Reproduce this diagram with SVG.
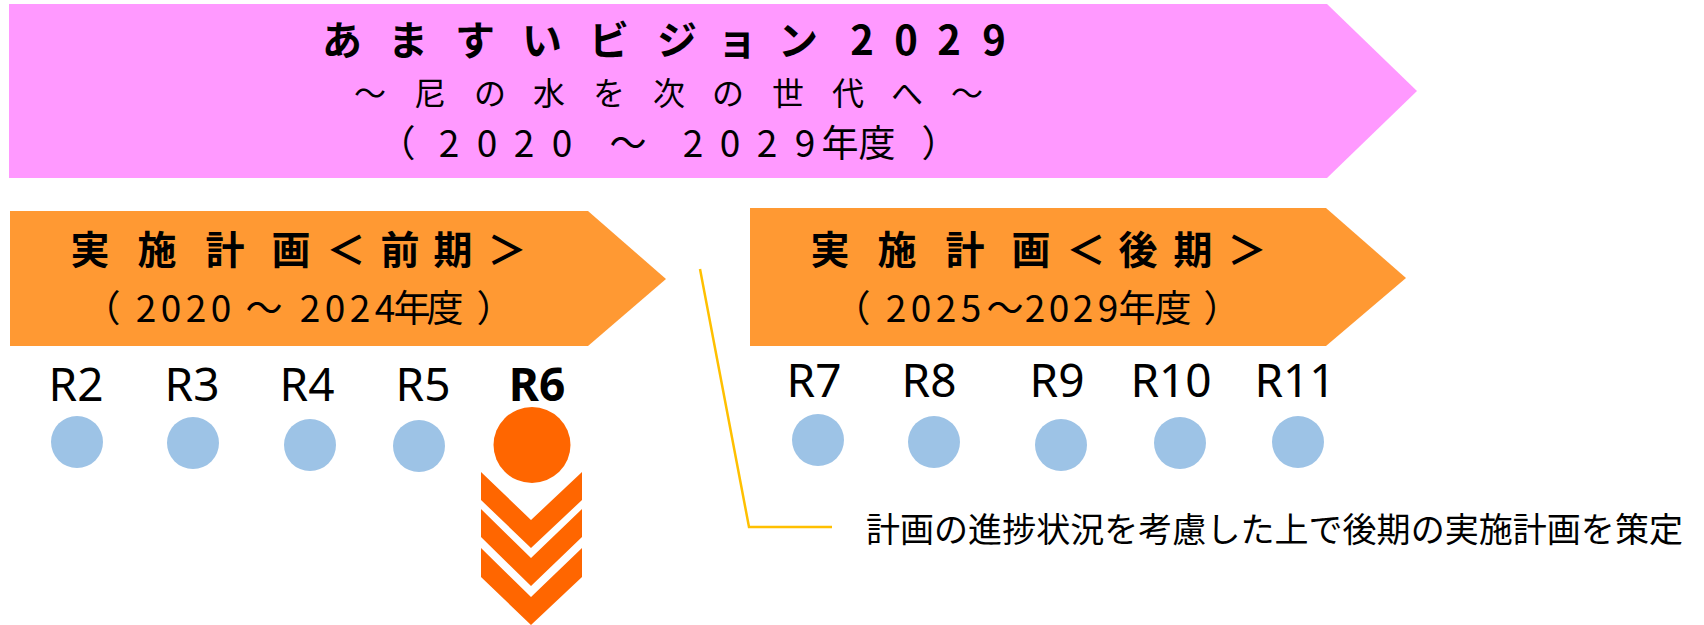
<svg xmlns="http://www.w3.org/2000/svg" width="1704" height="625" viewBox="0 0 1704 625">
<style>
.jp{font-family:"Noto Sans CJK JP","Noto Sans",sans-serif;fill:#000;text-anchor:middle}
.rl{font-family:"Noto Sans","Liberation Sans",sans-serif;font-size:46px;fill:#000;text-anchor:middle}
.dot{fill:#9DC3E6}
.hot{fill:#FF6600}
.conn{fill:none;stroke:#FFC000;stroke-width:2.5}
</style>
<rect width="1704" height="625" fill="#fff"/>
<g id="vision">
<polygon points="9,4 1327,4 1417,91 1327,178 9,178" fill="#FF99FF"/>
<text class="jp" font-size="40" font-weight="700" y="55" x="342 408 475 542 609 677 737 798 862 906 949 994">あますいビジョン2029</text>
<text class="jp" font-size="32" y="105" x="370 430 490 549 609 669 728 788 848 907 967">～尼の水を次の世代へ～</text>
<text class="jp" font-size="37" y="157" x="397 449 487 524 562 628 693 730 767 805 840 877 940">（2020～2029年度）</text>
</g>
<g id="plan-early">
<polygon points="10,211 588,211 666,279 588,346 10,346" fill="#FF9933"/>
<text class="jp" font-size="39" font-weight="700" y="264" x="90 157 225 291 346 400 453 507">実施計画＜前期＞</text>
<text class="jp" font-size="37" y="322" x="102 146 171 196 221 264 310 335 360 385 412 445 495">（2020～2024年度）</text>
</g>
<g id="plan-late">
<polygon points="750,208 1326,208 1406,278 1326,346 750,346" fill="#FF9933"/>
<text class="jp" font-size="39" font-weight="700" y="264" x="830 897 965 1031 1086 1138 1193 1247">実施計画＜後期＞</text>
<text class="jp" font-size="37" y="322" x="852 896 921 946 971 1005 1035 1059 1083 1108 1137 1173 1222">（2025～2029年度）</text>
</g>
<g id="r2"><text class="rl" x="76" y="401">R2</text><circle class="dot" cx="77" cy="442" r="26"/></g>
<g id="r3"><text class="rl" x="192" y="401">R3</text><circle class="dot" cx="193" cy="443" r="26"/></g>
<g id="r4"><text class="rl" x="307" y="401">R4</text><circle class="dot" cx="310" cy="445" r="26"/></g>
<g id="r5"><text class="rl" x="423" y="401">R5</text><circle class="dot" cx="419" cy="446" r="26"/></g>
<g id="r6">
<text class="rl" x="537" y="401" font-weight="700">R6</text>
<polygon class="hot" points="481,472 531,520 582,472 582,500 531,548 481,500"/>
<polygon class="hot" points="481,509 531,558 582,509 582,537 531,586 481,537"/>
<polygon class="hot" points="481,548 531,597 582,548 582,577 531,625 481,577"/>
<ellipse class="hot" cx="532" cy="445" rx="38.5" ry="38"/>
</g>
<g id="r7"><text class="rl" x="814" y="397">R7</text><circle class="dot" cx="818" cy="440" r="26"/></g>
<g id="r8"><text class="rl" x="929" y="397">R8</text><circle class="dot" cx="934" cy="442" r="26"/></g>
<g id="r9"><text class="rl" x="1057" y="397">R9</text><circle class="dot" cx="1061" cy="445" r="26"/></g>
<g id="r10"><text class="rl" x="1171" y="397">R10</text><circle class="dot" cx="1180" cy="443" r="26"/></g>
<g id="r11"><text class="rl" x="1295" y="397">R11</text><circle class="dot" cx="1298" cy="442" r="26"/></g>
<g id="connectors">
<polyline class="conn" points="700,269 749,527 832,527"/>
</g>
<g id="note">
<text class="jp" font-size="34" x="866" y="542" style="text-anchor:start" textLength="817" lengthAdjust="spacingAndGlyphs">計画の進捗状況を考慮した上で後期の実施計画を策定</text>
</g>
</svg>
